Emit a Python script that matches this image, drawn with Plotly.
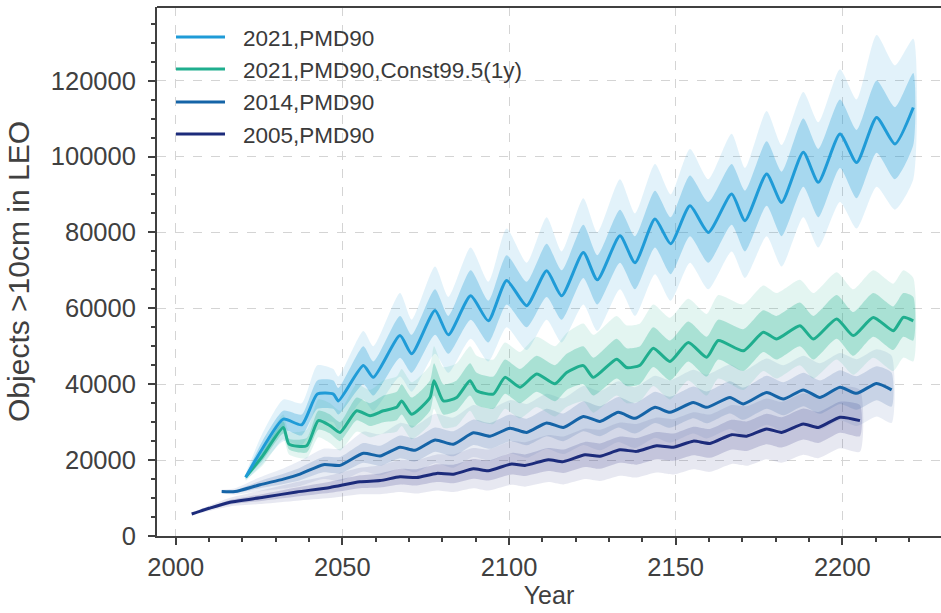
import plotly.graph_objects as go

# ---------------- data (values in thousands of objects) ----------------
# 2021,PMD90
yr_a = [2021.0, 2026.0, 2032.3, 2037.8, 2042.5, 2047.3, 2048.8, 2056.3, 2059.3, 2067.3, 2070.8,
        2077.8, 2081.8, 2088.5, 2093.8, 2099.3, 2105.3, 2111.3, 2115.8, 2122.3, 2126.5, 2133.3,
        2137.8, 2143.8, 2148.5, 2154.3, 2159.8, 2166.8, 2170.8, 2177.3, 2181.8, 2188.3, 2192.8,
        2199.3, 2204.3, 2210.3, 2215.8, 2221.3]
mean_a = [15.5, 23.0, 30.8, 29.3, 37.4, 37.4, 35.6, 44.9, 41.8, 52.8, 48.0, 59.4, 53.0, 63.3, 56.7,
          67.3, 60.7, 69.9, 63.3, 74.7, 67.5, 79.1, 72.0, 83.5, 77.0, 87.0, 80.0, 90.1, 83.1, 95.4,
          87.9, 101.1, 93.2, 105.9, 98.4, 110.3, 103.3, 112.9]
olo_a = [14.5, 19, 25, 24, 30, 30, 28, 36, 33, 42, 38, 48, 43, 52, 46, 55, 49, 57, 51, 61, 54, 65,
         58, 69, 62, 72, 65, 75, 68, 79, 71, 84, 76, 88, 81, 92, 86, 94]
ilo_a = [15, 21, 28, 26.5, 33.5, 33.5, 32, 40, 37, 47, 43, 53, 48, 57, 51, 61, 55, 63, 57, 68, 61,
         72, 65, 76, 69, 79, 72, 82, 75, 87, 79, 92, 84, 97, 89, 101, 94, 103]
ihi_a = [16, 25, 33, 32, 41, 41, 39, 50, 46, 58, 53, 65, 58, 70, 62, 74, 67, 77, 70, 82, 74, 86,
         79, 91, 84, 95, 88, 98, 91, 104, 96, 110, 102, 115, 107, 120, 113, 122]
ohi_a = [16.5, 27, 36, 35, 45, 44, 42, 54, 50, 64, 57, 71, 63, 76, 67, 81, 72, 84, 75, 89, 80, 94,
         85, 98, 90, 102, 94, 106, 97, 112, 103, 117, 109, 123, 115, 132, 124, 131]

# 2021,PMD90,Const99.5(1y)
yr_b = [2021.0, 2026.0, 2032.3, 2034.0, 2039.3, 2042.8, 2046.3, 2049.3, 2054.3, 2058.3, 2062.3,
        2066.3, 2067.8, 2070.8, 2076.3, 2077.5, 2080.3, 2084.3, 2088.3, 2090.3, 2095.3, 2098.8,
        2103.3, 2108.3, 2113.8, 2117.3, 2122.3, 2125.3, 2132.3, 2135.3, 2139.3, 2143.3, 2148.3,
        2153.8, 2159.3, 2162.8, 2170.3, 2176.3, 2180.3, 2187.3, 2191.3, 2198.3, 2203.3, 2209.3,
        2215.3, 2218.3, 2221.3]
mean_b = [15.5, 21.0, 28.6, 24.2, 23.8, 30.4, 29.1, 27.3, 33.0, 31.7, 33.0, 33.9, 35.6, 32.1, 36.5,
          40.9, 35.6, 36.5, 40.9, 38.3, 37.4, 41.8, 39.2, 42.7, 40.1, 43.1, 44.9, 41.8, 46.6, 44.4,
          45.0, 49.5, 46.0, 51.0, 47.1, 51.5, 48.8, 53.7, 51.9, 55.4, 51.9, 57.2, 52.8, 57.6, 54.1,
          57.6, 56.7]
olo_b = [14.8, 18.5, 25.5, 21.5, 20.5, 26.0, 24.5, 22.5, 27.5, 26.0, 27.0, 27.5, 29.0, 25.5, 29.5,
         33.5, 28.5, 29.0, 33.0, 30.5, 29.5, 33.5, 31.0, 34.0, 31.5, 34.0, 35.5, 32.5, 37.0, 35.0,
         35.5, 39.5, 36.0, 41.0, 37.0, 41.5, 38.5, 43.5, 41.5, 45.0, 41.5, 46.5, 42.5, 47.0, 43.5,
         47.0, 46.0]
ilo_b = [15.1, 19.8, 27.0, 22.8, 22.0, 28.0, 27.0, 25.0, 30.5, 29.0, 30.0, 30.5, 32.0, 28.5, 33.0,
         37.0, 32.0, 33.0, 37.0, 34.5, 33.5, 37.5, 35.0, 38.0, 35.5, 38.5, 40.0, 37.0, 41.5, 39.5,
         40.0, 44.5, 41.0, 46.0, 42.0, 46.5, 43.5, 48.5, 46.5, 50.0, 46.5, 52.0, 47.5, 52.5, 49.0,
         52.5, 51.5]
ihi_b = [15.9, 22.2, 30.2, 25.6, 25.8, 33.0, 32.0, 30.0, 36.5, 35.0, 37.0, 38.0, 40.0, 36.5, 41.0,
         45.5, 40.0, 41.0, 45.5, 43.0, 42.0, 46.5, 44.0, 47.5, 45.0, 48.0, 50.0, 47.0, 52.0, 49.5,
         50.0, 55.0, 51.5, 56.5, 52.5, 57.0, 54.5, 59.5, 58.0, 61.5, 58.0, 63.5, 59.0, 64.0, 60.5,
         64.0, 63.0]
ohi_b = [16.2, 23.5, 32.0, 27.5, 28.0, 36.0, 35.0, 33.0, 40.0, 38.5, 41.0, 42.0, 44.0, 40.5, 45.0,
         50.0, 44.5, 45.5, 50.0, 47.5, 46.5, 51.0, 48.5, 52.5, 50.0, 53.5, 56.0, 53.0, 58.0, 55.5,
         56.0, 61.0, 57.5, 62.5, 58.5, 63.5, 61.0, 66.0, 64.0, 67.5, 64.0, 69.5, 65.0, 70.0, 66.5,
         70.0, 68.0]

# 2014,PMD90
yr_c = [2013.8, 2017.8, 2025.3, 2032.3, 2037.3, 2044.3, 2049.3, 2056.3, 2061.3, 2067.3, 2071.8,
        2077.8, 2083.3, 2089.3, 2094.3, 2100.3, 2105.3, 2111.3, 2116.3, 2122.3, 2127.3, 2132.8,
        2137.8, 2143.8, 2148.3, 2155.3, 2159.3, 2166.3, 2170.3, 2177.3, 2182.3, 2188.3, 2193.3,
        2199.3, 2204.3, 2210.3, 2214.8]
mean_c = [11.7, 11.7, 13.5, 15.0, 16.3, 18.8, 18.6, 21.8, 21.1, 23.4, 22.6, 25.3, 24.2, 27.2, 26.3,
          28.4, 27.3, 29.8, 28.6, 31.5, 30.2, 32.6, 31.0, 33.9, 32.6, 35.2, 33.9, 36.5, 34.8, 37.8,
          36.1, 38.5, 36.5, 39.2, 37.6, 40.2, 38.5]
olo_c = [11.2, 10.9, 11.8, 12.5, 13.2, 15.0, 14.5, 17.0, 16.0, 17.8, 16.8, 19.2, 18.0, 20.8, 19.8,
         21.8, 20.6, 23.0, 21.6, 24.0, 22.6, 24.8, 23.2, 25.9, 24.6, 27.0, 25.7, 28.2, 26.5, 29.3,
         27.6, 30.0, 28.0, 30.5, 29.0, 31.5, 29.8]
ilo_c = [11.5, 11.3, 12.6, 13.7, 14.7, 16.8, 16.5, 19.3, 18.5, 20.5, 19.6, 22.2, 21.0, 24.0, 23.0,
         25.0, 23.9, 26.3, 25.0, 27.6, 26.3, 28.6, 27.0, 29.8, 28.5, 31.0, 29.7, 32.3, 30.6, 33.5,
         31.8, 34.2, 32.2, 34.8, 33.3, 35.8, 34.1]
ihi_c = [11.9, 12.1, 14.5, 16.4, 18.0, 20.8, 20.8, 24.5, 23.8, 26.5, 25.8, 28.6, 27.6, 30.7, 29.8,
         32.0, 30.9, 33.5, 32.3, 35.5, 34.2, 36.6, 35.0, 38.0, 36.7, 39.4, 38.1, 40.8, 39.1, 42.2,
         40.5, 43.0, 41.0, 43.7, 42.1, 44.7, 43.0]
ohi_c = [12.2, 12.6, 15.5, 17.8, 19.8, 23.0, 23.0, 27.5, 26.8, 29.8, 29.0, 32.2, 31.2, 34.5, 33.5,
         35.8, 34.8, 37.5, 36.3, 39.5, 38.2, 40.8, 39.2, 42.2, 41.0, 43.8, 42.5, 45.2, 43.5, 46.8,
         45.0, 47.5, 45.5, 48.2, 46.6, 49.2, 47.5]

# 2005,PMD90
yr_d = [2004.8, 2010.0, 2016.3, 2026.3, 2036.3, 2046.3, 2055.3, 2061.3, 2067.3, 2072.3, 2078.3,
        2083.3, 2089.3, 2093.8, 2100.8, 2104.8, 2111.8, 2116.3, 2122.8, 2127.3, 2133.3, 2138.3,
        2144.3, 2149.3, 2155.3, 2160.3, 2166.8, 2171.3, 2177.3, 2181.8, 2188.3, 2192.8, 2199.3,
        2205.3]
mean_d = [5.8, 7.3, 8.9, 10.2, 11.6, 12.8, 14.3, 14.6, 15.6, 15.4, 16.5, 16.3, 17.7, 17.2, 19.0,
          18.6, 20.1, 19.6, 21.4, 21.0, 22.7, 22.3, 23.8, 23.4, 25.0, 24.4, 26.7, 26.3, 28.2, 27.3,
          29.5, 28.6, 31.3, 30.4]
olo_d = [5.5, 6.6, 7.8, 8.5, 9.3, 10.0, 11.0, 11.0, 11.6, 11.2, 12.0, 11.6, 12.6, 12.0, 13.5, 13.0,
         14.2, 13.6, 15.0, 14.5, 15.9, 15.4, 16.7, 16.2, 17.6, 16.9, 19.0, 18.5, 20.2, 19.3, 21.4,
         20.5, 23.1, 22.2]
ilo_d = [5.7, 7.0, 8.3, 9.3, 10.4, 11.4, 12.6, 12.8, 13.6, 13.3, 14.2, 13.9, 15.1, 14.6, 16.2, 15.8,
         17.1, 16.6, 18.2, 17.7, 19.3, 18.8, 20.2, 19.8, 21.3, 20.6, 22.8, 22.4, 24.2, 23.3, 25.4,
         24.5, 27.2, 26.3]
ihi_d = [5.9, 7.6, 9.5, 11.1, 12.8, 14.3, 16.0, 16.5, 17.7, 17.6, 18.9, 18.8, 20.3, 19.9, 21.9, 21.5,
         23.2, 22.8, 24.8, 24.4, 26.2, 25.8, 27.4, 27.0, 28.8, 28.2, 30.6, 30.2, 32.2, 31.3, 33.6,
         32.7, 35.4, 34.5]
ohi_d = [6.1, 8.0, 10.1, 12.1, 14.2, 16.0, 18.0, 18.6, 20.0, 20.0, 21.5, 21.5, 23.2, 22.8, 25.0, 24.7,
         26.6, 26.2, 28.3, 28.0, 29.9, 29.5, 31.2, 30.8, 32.6, 32.0, 34.5, 34.2, 36.2, 35.3, 37.6,
         36.7, 39.4, 38.5]

series_names = ["2021,PMD90", "2021,PMD90,Const99.5(1y)", "2014,PMD90", "2005,PMD90"]
x_ticks = [2000, 2050, 2100, 2150, 2200]
y_ticks = [0, 20000, 40000, 60000, 80000, 100000, 120000]

# ---------------- styling ----------------
line_cols = ["#1f9bd7", "#1fae8e", "#1564a7", "#1c2b7b"]
band_rgb = ["31,155,215", "35,178,145", "70,110,170", "60,62,140"]
outer_alpha = [0.13, 0.13, 0.12, 0.12]
inner_alpha = [0.30, 0.30, 0.20, 0.20]
AX = "#404040"
FONT = "Liberation Sans, Arial, Helvetica, sans-serif"
SMOOTH = 0.6

K = 1000.0
sets = [
    (yr_a, mean_a, olo_a, ilo_a, ihi_a, ohi_a),
    (yr_b, mean_b, olo_b, ilo_b, ihi_b, ohi_b),
    (yr_c, mean_c, olo_c, ilo_c, ihi_c, ohi_c),
    (yr_d, mean_d, olo_d, ilo_d, ihi_d, ohi_d),
]

fig = go.Figure()

def band(x, lo, hi, color):
    xs = list(x) + list(x)[::-1]
    ys = [v * K for v in hi] + [v * K for v in lo][::-1]
    fig.add_trace(go.Scatter(x=xs, y=ys, fill="toself", fillcolor=color, mode="lines",
                             line=dict(width=0, shape="spline", smoothing=SMOOTH),
                             hoverinfo="skip", showlegend=False))

draw_order = [3, 2, 0, 1]
for i in draw_order:
    yr, m, olo, ilo, ihi, ohi = sets[i]
    band(yr, olo, ohi, f"rgba({band_rgb[i]},{outer_alpha[i]})")
    band(yr, ilo, ihi, f"rgba({band_rgb[i]},{inner_alpha[i]})")

for i in [3, 2, 1, 0]:
    yr, m = sets[i][0], sets[i][1]
    fig.add_trace(go.Scatter(x=yr, y=[v * K for v in m], mode="lines", name=series_names[i],
                             line=dict(color=line_cols[i], width=3, shape="spline", smoothing=SMOOTH),
                             showlegend=False))

# plot area in pixels
L, R, T, B = 157, 941, 7, 536
W, H = 941, 613

def px_x(p):
    return (p - L) / (R - L)

def px_y(p):
    return (B - p) / (B - T)

shapes = [dict(type="line", xref="paper", yref="paper", x0=0, x1=1, y0=1, y1=1,
               line=dict(color=AX, width=2))]
annotations = []
leg_y = [37, 69, 102, 134]
for i, name in enumerate(series_names):
    shapes.append(dict(type="line", xref="paper", yref="paper", x0=px_x(176), x1=px_x(225),
                       y0=px_y(leg_y[i]), y1=px_y(leg_y[i]), line=dict(color=line_cols[i], width=3)))
    annotations.append(dict(xref="paper", yref="paper", x=px_x(241), y=px_y(leg_y[i] + 1),
                            text=name, showarrow=False, xanchor="left", yanchor="middle",
                            font=dict(size=22.5, color="#3a3a3a", family=FONT)))

fig.update_layout(
    width=W, height=H,
    margin=dict(l=L, r=W - R, t=T, b=H - B),
    plot_bgcolor="white", paper_bgcolor="white",
    showlegend=False,
    font=dict(family=FONT, color=AX),
    shapes=shapes, annotations=annotations,
)

fig.update_xaxes(
    range=[2000 - (175.7 - L) / 3.333, 2000 + (R - 175.7) / 3.333],
    tickmode="array", tickvals=x_ticks, ticktext=[str(v) for v in x_ticks],
    ticks="outside", ticklen=7, tickwidth=2, tickcolor=AX,
    showline=True, linewidth=2, linecolor=AX, mirror=False,
    showgrid=True, gridcolor="#d4d4d4", griddash="dash", gridwidth=1,
    zeroline=False,
    minor=dict(tickmode="linear", tick0=2000, dtick=10, ticks="outside", ticklen=4,
               tickwidth=1.5, tickcolor=AX, showgrid=False),
    tickfont=dict(size=25.5, color=AX, family=FONT),
    ticklabelstandoff=0,
    title=dict(text="Year", font=dict(size=25, color=AX, family=FONT), standoff=4),
    automargin=False,
)

fig.update_yaxes(
    range=[0, (B - T) / 3.795 * 1000],
    tickmode="array", tickvals=y_ticks, ticktext=[str(v) for v in y_ticks],
    ticks="outside", ticklen=7, tickwidth=2, tickcolor=AX,
    showline=True, linewidth=2, linecolor=AX, mirror=False,
    showgrid=True, gridcolor="#d4d4d4", griddash="dash", gridwidth=1,
    zeroline=False,
    minor=dict(tickmode="linear", tick0=0, dtick=5000, ticks="outside", ticklen=4,
               tickwidth=1.5, tickcolor=AX, showgrid=False),
    tickfont=dict(size=25.5, color=AX, family=FONT),
    ticklabelstandoff=7,
    title=dict(text="Objects >10cm in LEO", font=dict(size=30, color=AX, family=FONT), standoff=12),
    automargin=False,
)

fig.write_html("out.html", config={"displayModeBar": False},
               post_script="document.body.style.margin='0';document.body.style.overflow='hidden';")
